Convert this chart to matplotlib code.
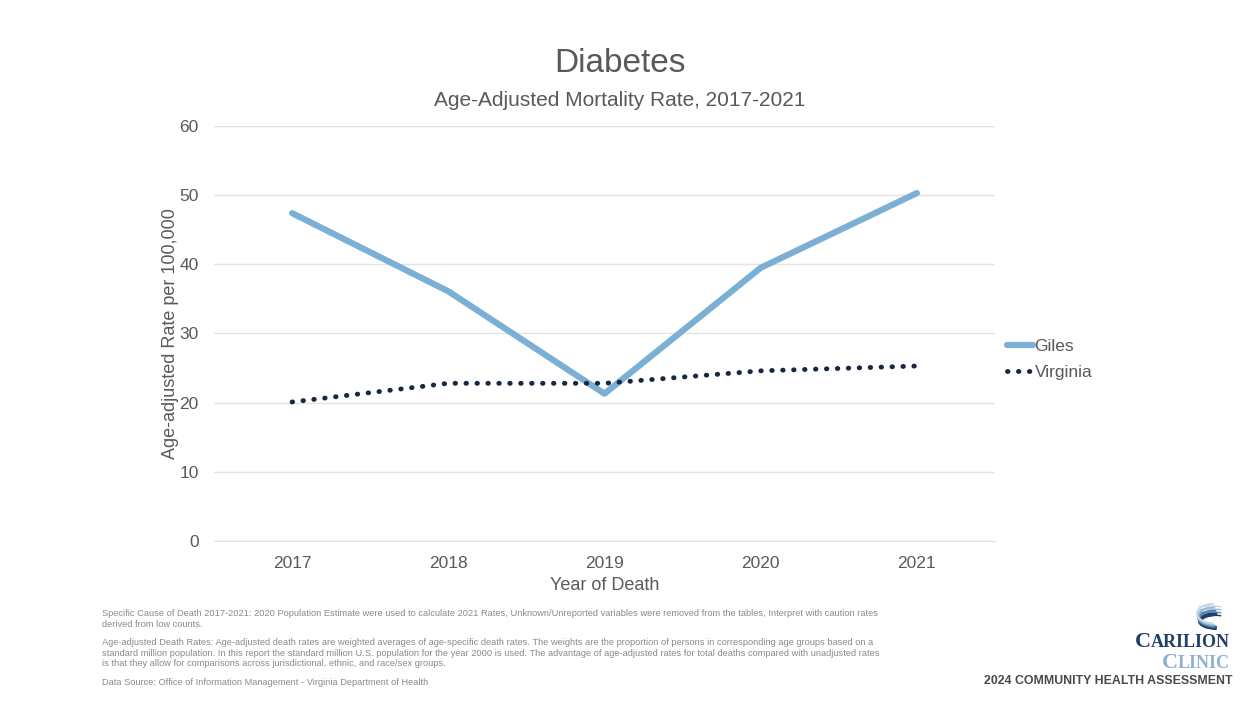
import matplotlib.pyplot as plt
from matplotlib.patches import Arc

plt.rcParams['font.family'] = ['Liberation Sans', 'DejaVu Sans']

years = ['2017', '2018', '2019', '2020', '2021']
giles = [47.4, 36.1, 21.3, 39.5, 50.3]
virginia = [20.1, 22.8, 22.8, 24.6, 25.3]

gray = '#595959'
W, H = 1247, 702

fig = plt.figure(figsize=(12.47, 7.02), dpi=100)
ax = fig.add_axes([214 / W, 1 - 541 / H, (995 - 214) / W, (541 - 126) / H])

x = list(range(len(years)))
ax.plot(x, giles, color='#7bafd4', linewidth=4.5, solid_capstyle='round', label='Giles')
ax.plot(x, virginia, color='#172744', linewidth=3.5, linestyle=(0, (0.1, 2.15)),
        dash_capstyle='round', label='Virginia')

ax.set_xlim(-0.5, len(years) - 0.5)
ax.set_ylim(0, 60)
ax.set_yticks(range(0, 61, 10))
ax.set_xticks(x)
ax.set_xticklabels(years)
ax.grid(axis='y', color='#e3e3e3', linewidth=1)
ax.set_axisbelow(True)
for s in ax.spines.values():
    s.set_visible(False)
ax.spines['bottom'].set_visible(True)
ax.spines['bottom'].set_color('#e3e3e3')
ax.tick_params(length=0, labelsize=12.5, labelcolor=gray, pad=11)
ax.tick_params(axis='y', pad=11)
ax.set_xlabel('Year of Death', fontsize=13, color=gray, labelpad=4)
ax.set_ylabel('Age-adjusted Rate per 100,000', fontsize=13, color=gray, labelpad=0)

leg = ax.legend(loc='center left', bbox_to_anchor=(0.995, 0.437), frameon=False,
                fontsize=12.5, handlelength=1.5, handletextpad=0.1, labelspacing=0.6)
for t in leg.get_texts():
    t.set_color(gray)

fig.text(0.497, 1 - 63 / H, 'Diabetes', ha='center', va='center', fontsize=24, color=gray)
fig.text(0.497, 1 - 100 / H, 'Age-Adjusted Mortality Rate, 2017-2021', ha='center', va='center',
         fontsize=15, color=gray)

notes = [
    (609, 'Specific Cause of Death 2017-2021: 2020 Population Estimate were used to calculate 2021 Rates, Unknown/Unreported variables were removed from the tables, Interpret with caution rates\nderived from low counts.'),
    (638, 'Age-adjusted Death Rates: Age-adjusted death rates are weighted averages of age-specific death rates. The weights are the proportion of persons in corresponding age groups based on a\nstandard million population. In this report the standard million U.S. population for the year 2000 is used. The advantage of age-adjusted rates for total deaths compared with unadjusted rates\nis that they allow for comparisons across jurisdictional, ethnic, and race/sex groups.'),
    (678, 'Data Source: Office of Information Management - Virginia Department of Health'),
]
for y, txt in notes:
    fig.text(102 / W, 1 - y / H, txt, ha='left', va='top', fontsize=6.7, color='#8a8a8a',
             linespacing=1.25)

# logo wordmark with small caps
fig.canvas.draw()
r = fig.canvas.get_renderer()
for word, yy, col in [('CARILION', 647, '#1f3f66'), ('CLINIC', 668, '#8fb0d2')]:
    rest = fig.text(1230 / W, 1 - yy / H, word[1:], ha='right', va='baseline', fontsize=13,
                    color=col, family='Liberation Serif', weight='bold')
    bb = rest.get_window_extent(r)
    fig.text(bb.x0 / W, 1 - yy / H, word[0], ha='right', va='baseline', fontsize=16,
             color=col, family='Liberation Serif', weight='bold')
fig.text(1233 / W, 1 - 681 / H, '2024 COMMUNITY HEALTH ASSESSMENT', ha='right', va='center',
         fontsize=8.9, color='#4a4a4a', weight='bold')

# logo swoosh
lax = fig.add_axes([1188 / W, 1 - 633 / H, 44 / W, 30 / H])
lax.set_xlim(0, 44)
lax.set_ylim(0, 30)
lax.axis('off')
for i, (c, lw) in enumerate([('#1f3f66', 3), ('#5d86b3', 2), ('#9dbbd9', 1.6), ('#c5d7ea', 1.4)]):
    lax.add_patch(Arc((30 - i, 12 + i * 2.5), 36, 14 + i * 2, theta1=95, theta2=260,
                      color=c, linewidth=lw))
    lax.add_patch(Arc((22, 13 + i * 3), 40, 10, theta1=20, theta2=160, color=c, linewidth=1))

fig.savefig('out.png', dpi=100, facecolor='white')
